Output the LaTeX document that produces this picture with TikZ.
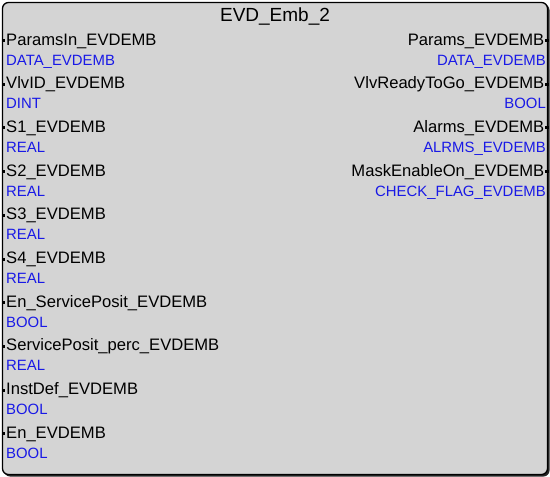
\documentclass[tikz,border=0pt]{standalone}
\usepackage{fontspec}
\setmainfont{Liberation Sans}
\definecolor{boxfill}{RGB}{212,212,212}
\definecolor{typeblue}{RGB}{25,25,230}
\begin{document}
\begin{tikzpicture}[x=1pt,y=-1pt,
  pinname/.style={inner sep=0pt,font=\fontsize{16.6}{18}\selectfont,text=black},
  pintype/.style={inner sep=0pt,font=\fontsize{14.9}{16}\selectfont,text=typeblue},
  pinmark/.style={fill=black,draw=none}]
\useasboundingbox (0,0) rectangle (550,477);
% shadow
\fill[black!85,rounded corners=6pt] (4,4) rectangle (549.5,476.5);
\draw[fill=boxfill,line width=1.3pt,rounded corners=6pt] (2.5,2.5) rectangle (547.5,474.5);
\node[inner sep=0pt,anchor=base,font=\fontsize{19}{21}\selectfont] (title) at (275,21) {EVD\_Emb\_2};
% left pins
\foreach \n/\t [count=\i from 0] in {ParamsIn\_EVDEMB/DATA\_EVDEMB,VlvID\_EVDEMB/DINT,S1\_EVDEMB/REAL,S2\_EVDEMB/REAL,S3\_EVDEMB/REAL,S4\_EVDEMB/REAL,En\_ServicePosit\_EVDEMB/BOOL,ServicePosit\_perc\_EVDEMB/REAL,InstDef\_EVDEMB/BOOL,En\_EVDEMB/BOOL}{
  \pgfmathsetmacro{\yb}{45+43.7*\i}
  \node[pinname,anchor=base west] (in\i) at (6,\yb) {\n};
  \node[pintype,anchor=base west] (intype\i) at (6,\yb+20) {\t};
  \fill[pinmark] (1.5,\yb-6) rectangle (5,\yb-3);
}
% right pins
\foreach \n/\t [count=\i from 0] in {Params\_EVDEMB/DATA\_EVDEMB,VlvReadyToGo\_EVDEMB/BOOL,Alarms\_EVDEMB/ALRMS\_EVDEMB,MaskEnableOn\_EVDEMB/CHECK\_FLAG\_EVDEMB}{
  \pgfmathsetmacro{\yb}{45+43.7*\i}
  \node[pinname,anchor=base east] (out\i) at (544.5,\yb) {\n};
  \node[pintype,anchor=base east] (outtype\i) at (546,\yb+20) {\t};
  \fill[pinmark] (545,\yb-6) rectangle (548.5,\yb-3);
}
\end{tikzpicture}
\end{document}
